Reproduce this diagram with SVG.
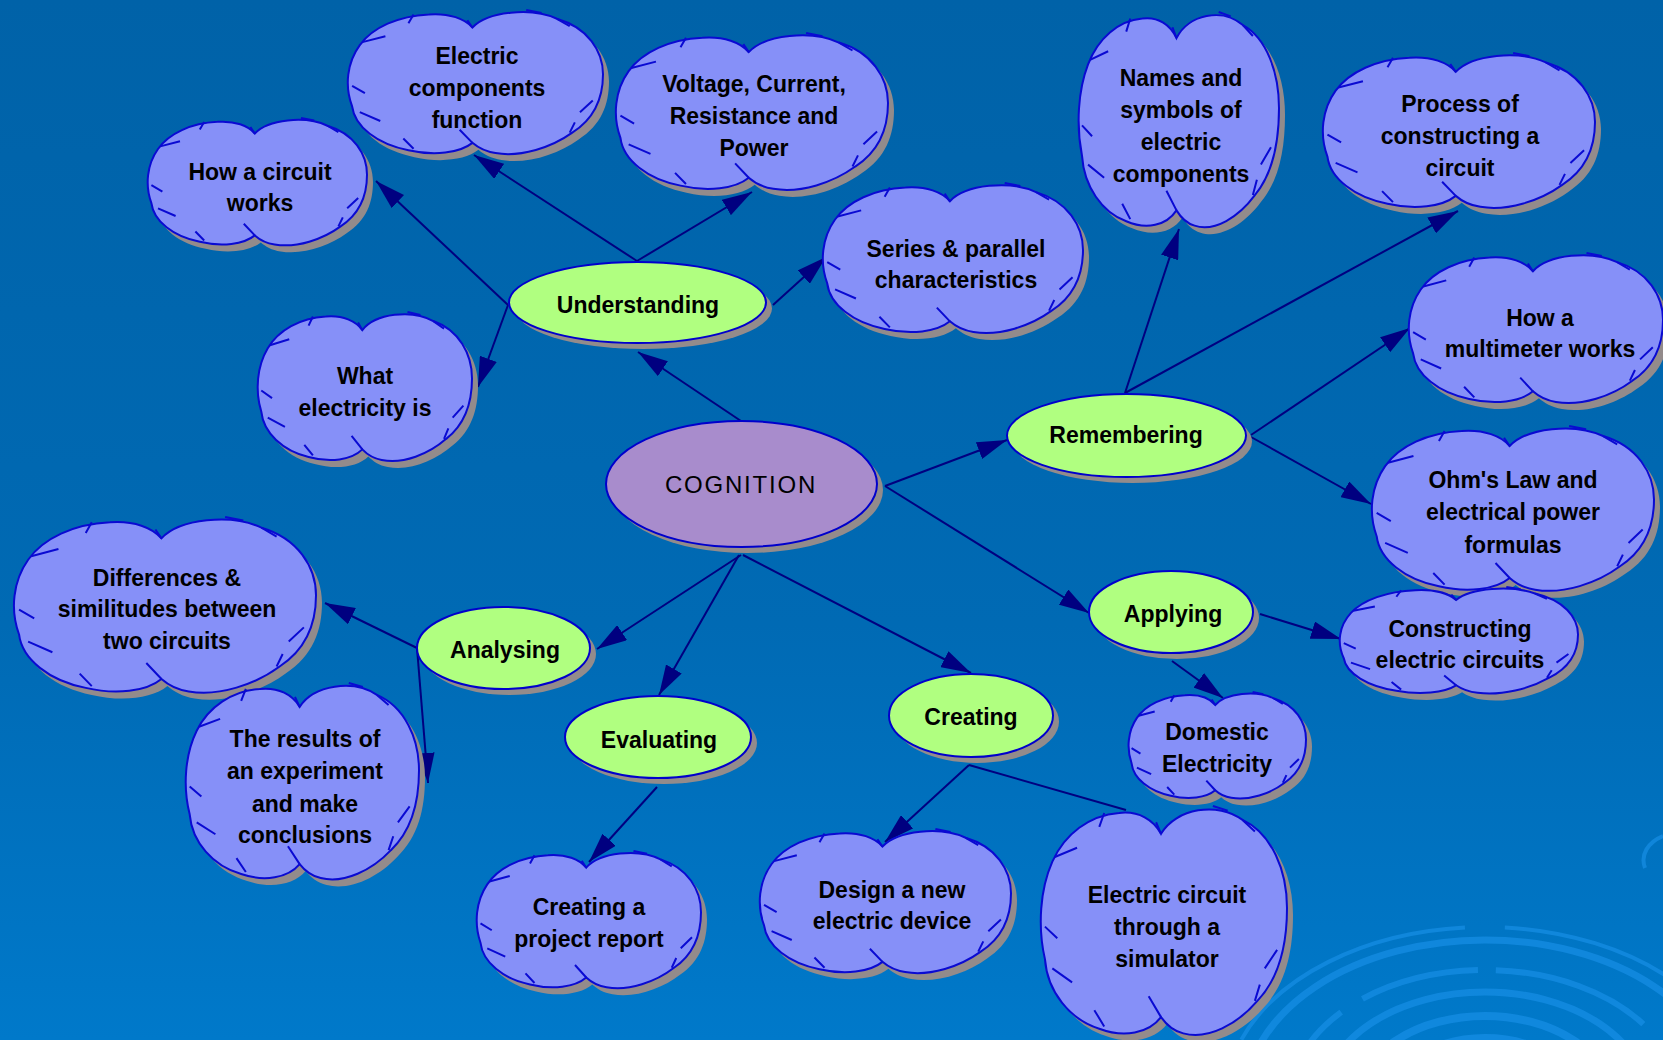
<svg xmlns="http://www.w3.org/2000/svg" xmlns:xlink="http://www.w3.org/1999/xlink" width="1663" height="1040" viewBox="0 0 1663 1040">
<defs>
  <linearGradient id="bg" x1="0" y1="0" x2="0" y2="1">
    <stop offset="0" stop-color="#0062a8"/>
    <stop offset="0.6" stop-color="#006ab4"/>
    <stop offset="1" stop-color="#0079ca"/>
  </linearGradient>
  <marker id="ah" markerUnits="userSpaceOnUse" markerWidth="30" markerHeight="18" refX="30" refY="9" orient="auto">
    <path d="M0,0 L30,9 L0,18 Z" fill="#000080"/>
  </marker>
  <path id="cp" vector-effect="non-scaling-stroke" d="M49,12 C55,1 72,-2 82,6 C94,12 100,28 100,44 C100,60 97,74 88,84 C80,94 68,101 58,98 C54,97 51,94 49,91 C44,98 34,100 24,96 C12,92 3,80 2,66 C-1,52 0,36 5,24 C10,12 20,4 32,3 C40,2 46,6 49,12 Z"/>
  <g id="cloud">
    <use xlink:href="#cp" class="cl"/>
    <path class="tk" vector-effect="non-scaling-stroke" d="M6,22 L15,18 M2,52 L7,57 M5,70 L13,76 M22,88 L26,95 M44,82 L49,91 M96,62 L91,70 M89,77 L87,84 M26,3 L24,9 M82,6 L87,11 M49,12 L47,7 M70,0 L76,2"/>
  </g>
  <style>
    .cl{fill:#8690f8;stroke:#0a0ad2;stroke-width:2}
    .tk{fill:none;stroke:#0a0ad2;stroke-width:2}
    .sh{fill:#938b8b}
    .esh{fill:#938b8b}
    .eg{fill:#b0ff80;stroke:#0000cc;stroke-width:2}
    .ep{fill:#a88ccc;stroke:#0000cc;stroke-width:2}
    .t{font-family:"Liberation Sans",Arial,sans-serif;font-weight:bold;font-size:23px;fill:#000;text-anchor:middle}
    .tc{font-family:"Liberation Sans",Arial,sans-serif;font-size:24px;letter-spacing:1.8px;fill:#000;text-anchor:middle}
    .cn{fill:none;stroke:#000080;stroke-width:2;marker-end:url(#ah)}
    .cn0{fill:none;stroke:#000080;stroke-width:2}
    .rp{fill:none;stroke:#1890e8;stroke-opacity:0.65}
  </style>
</defs>

<rect x="0" y="0" width="1663" height="1040" fill="url(#bg)"/>
<g id="ripples">
  <ellipse class="rp" cx="1485" cy="1100" rx="260" ry="173" stroke-width="4" stroke-dasharray="260 40 420 30"/>
  <ellipse class="rp" cx="1485" cy="1100" rx="240" ry="160" stroke-width="7"/>
  <ellipse class="rp" cx="1485" cy="1100" rx="195" ry="130" stroke-width="6" stroke-dasharray="120 18 160 25"/>
  <ellipse class="rp" cx="1485" cy="1100" rx="162" ry="108" stroke-width="7"/>
  <ellipse class="rp" cx="1485" cy="1100" rx="126" ry="84" stroke-width="8"/>
  <ellipse class="rp" cx="1485" cy="1100" rx="93" ry="62" stroke-width="8"/>
  <path class="rp" stroke-width="4" d="M1645,868 C1640,855 1648,842 1663,836"/>
</g>

<g id="connectors">
  <line class="cn" x1="741" y1="421" x2="638" y2="352"/>
  <line class="cn" x1="885" y1="486" x2="1007" y2="440"/>
  <line class="cn" x1="885" y1="486" x2="1089" y2="613"/>
  <line class="cn" x1="741" y1="555" x2="597" y2="649"/>
  <line class="cn" x1="739" y1="555" x2="659" y2="695"/>
  <line class="cn" x1="743" y1="555" x2="971" y2="673"/>
  <line class="cn" x1="508" y1="305" x2="376" y2="181"/>
  <line class="cn" x1="508" y1="305" x2="478" y2="387"/>
  <line class="cn" x1="637" y1="261" x2="474" y2="155"/>
  <line class="cn" x1="637" y1="261" x2="752" y2="192"/>
  <line class="cn" x1="773" y1="305" x2="826" y2="257"/>
  <line class="cn" x1="1125" y1="393" x2="1179" y2="229"/>
  <line class="cn" x1="1125" y1="393" x2="1458" y2="211"/>
  <line class="cn" x1="1251" y1="435" x2="1410" y2="328"/>
  <line class="cn" x1="1251" y1="437" x2="1371" y2="504"/>
  <line class="cn" x1="1260" y1="614" x2="1341" y2="639"/>
  <line class="cn" x1="1172" y1="661" x2="1223" y2="698"/>
  <line class="cn" x1="417" y1="648" x2="325" y2="603"/>
  <line class="cn" x1="417" y1="648" x2="428" y2="783"/>
  <line class="cn" x1="657" y1="787" x2="589" y2="862"/>
  <line class="cn" x1="969" y1="765" x2="885" y2="842"/>
  <line class="cn0" x1="969" y1="765" x2="1126" y2="810"/>
</g>

<g id="n-cognition">
  <ellipse class="esh" cx="747.5" cy="490" rx="135.5" ry="63"/>
  <ellipse class="ep" cx="741.5" cy="484" rx="135.5" ry="63"/>
  <text class="tc" x="741" y="493">COGNITION</text>
</g>
<g id="n-understanding">
  <ellipse class="esh" cx="643.5" cy="308.5" rx="128.5" ry="40.5"/>
  <ellipse class="eg" cx="637.5" cy="302.5" rx="128.5" ry="40.5"/>
  <text class="t" x="638" y="313">Understanding</text>
</g>
<g id="n-remembering">
  <ellipse class="esh" cx="1132.5" cy="441.5" rx="119.5" ry="41.5"/>
  <ellipse class="eg" cx="1126.5" cy="435.5" rx="119.5" ry="41.5"/>
  <text class="t" x="1126" y="443">Remembering</text>
</g>
<g id="n-applying">
  <ellipse class="esh" cx="1177" cy="618" rx="82" ry="41"/>
  <ellipse class="eg" cx="1171" cy="612" rx="82" ry="41"/>
  <text class="t" x="1173" y="622">Applying</text>
</g>
<g id="n-analysing">
  <ellipse class="esh" cx="509.5" cy="654" rx="86.5" ry="41"/>
  <ellipse class="eg" cx="503.5" cy="648" rx="86.5" ry="41"/>
  <text class="t" x="505" y="658">Analysing</text>
</g>
<g id="n-evaluating">
  <ellipse class="esh" cx="664" cy="743" rx="93" ry="41"/>
  <ellipse class="eg" cx="658" cy="737" rx="93" ry="41"/>
  <text class="t" x="659" y="748">Evaluating</text>
</g>
<g id="n-creating">
  <ellipse class="esh" cx="977" cy="721.5" rx="82" ry="41.5"/>
  <ellipse class="eg" cx="971" cy="715.5" rx="82" ry="41.5"/>
  <text class="t" x="971" y="725">Creating</text>
</g>

<g id="c-howcircuit">
  <use xlink:href="#cp" class="sh" transform="translate(153,125) scale(2.20,1.29)"/>
  <use xlink:href="#cloud" transform="translate(147,118) scale(2.20,1.29)"/>
  <text class="t" x="260" y="180">How a circuit</text>
  <text class="t" x="260" y="211">works</text>
</g>
<g id="c-components">
  <use xlink:href="#cp" class="sh" transform="translate(353,17) scale(2.56,1.46)"/>
  <use xlink:href="#cloud" transform="translate(347,10) scale(2.56,1.46)"/>
  <text class="t" x="477" y="64">Electric</text>
  <text class="t" x="477" y="96">components</text>
  <text class="t" x="477" y="128">function</text>
</g>
<g id="c-voltage">
  <use xlink:href="#cp" class="sh" transform="translate(621,40) scale(2.73,1.59)"/>
  <use xlink:href="#cloud" transform="translate(615,33) scale(2.73,1.59)"/>
  <text class="t" x="754" y="92">Voltage, Current,</text>
  <text class="t" x="754" y="124">Resistance and</text>
  <text class="t" x="754" y="156">Power</text>
</g>
<g id="c-series">
  <use xlink:href="#cp" class="sh" transform="translate(828,190) scale(2.61,1.52)"/>
  <use xlink:href="#cloud" transform="translate(822,183) scale(2.61,1.52)"/>
  <text class="t" x="956" y="257">Series &amp; parallel</text>
  <text class="t" x="956" y="288">characteristics</text>
</g>
<g id="c-names">
  <use xlink:href="#cp" class="sh" transform="translate(1084,19) scale(2.01,2.18)"/>
  <use xlink:href="#cloud" transform="translate(1078,12) scale(2.01,2.18)"/>
  <text class="t" x="1181" y="86">Names and</text>
  <text class="t" x="1181" y="118">symbols of</text>
  <text class="t" x="1181" y="150">electric</text>
  <text class="t" x="1181" y="182">components</text>
</g>
<g id="c-process">
  <use xlink:href="#cp" class="sh" transform="translate(1328,60) scale(2.73,1.57)"/>
  <use xlink:href="#cloud" transform="translate(1322,53) scale(2.73,1.57)"/>
  <text class="t" x="1460" y="112">Process of</text>
  <text class="t" x="1460" y="144">constructing a</text>
  <text class="t" x="1460" y="176">circuit</text>
</g>
<g id="c-multimeter">
  <use xlink:href="#cp" class="sh" transform="translate(1414,260) scale(2.55,1.52)"/>
  <use xlink:href="#cloud" transform="translate(1408,253) scale(2.55,1.52)"/>
  <text class="t" x="1540" y="326">How a</text>
  <text class="t" x="1540" y="357">multimeter works</text>
</g>
<g id="c-ohm">
  <use xlink:href="#cp" class="sh" transform="translate(1377,433) scale(2.83,1.67)"/>
  <use xlink:href="#cloud" transform="translate(1371,426) scale(2.83,1.67)"/>
  <text class="t" x="1513" y="488">Ohm's Law and</text>
  <text class="t" x="1513" y="520">electrical power</text>
  <text class="t" x="1513" y="553">formulas</text>
</g>
<g id="c-constructing">
  <use xlink:href="#cp" class="sh" transform="translate(1345,594) scale(2.39,1.08)"/>
  <use xlink:href="#cloud" transform="translate(1339,587) scale(2.39,1.08)"/>
  <text class="t" x="1460" y="637">Constructing</text>
  <text class="t" x="1460" y="668">electric circuits</text>
</g>
<g id="c-domestic">
  <use xlink:href="#cp" class="sh" transform="translate(1134,699) scale(1.78,1.08)"/>
  <use xlink:href="#cloud" transform="translate(1128,692) scale(1.78,1.08)"/>
  <text class="t" x="1217" y="740">Domestic</text>
  <text class="t" x="1217" y="772">Electricity</text>
</g>
<g id="c-simulator">
  <use xlink:href="#cp" class="sh" transform="translate(1046,813) scale(2.47,2.32)"/>
  <use xlink:href="#cloud" transform="translate(1040,806) scale(2.47,2.32)"/>
  <text class="t" x="1167" y="903">Electric circuit</text>
  <text class="t" x="1167" y="935">through a</text>
  <text class="t" x="1167" y="967">simulator</text>
</g>
<g id="c-design">
  <use xlink:href="#cp" class="sh" transform="translate(765,836) scale(2.52,1.46)"/>
  <use xlink:href="#cloud" transform="translate(759,829) scale(2.52,1.46)"/>
  <text class="t" x="892" y="898">Design a new</text>
  <text class="t" x="892" y="929">electric device</text>
</g>
<g id="c-report">
  <use xlink:href="#cp" class="sh" transform="translate(482,858) scale(2.25,1.39)"/>
  <use xlink:href="#cloud" transform="translate(476,851) scale(2.25,1.39)"/>
  <text class="t" x="589" y="915">Creating a</text>
  <text class="t" x="589" y="947">project report</text>
</g>
<g id="c-differences">
  <use xlink:href="#cp" class="sh" transform="translate(19,524) scale(3.03,1.78)"/>
  <use xlink:href="#cloud" transform="translate(13,517) scale(3.03,1.78)"/>
  <text class="t" x="167" y="586">Differences &amp;</text>
  <text class="t" x="167" y="617">similitudes between</text>
  <text class="t" x="167" y="649">two circuits</text>
</g>
<g id="c-results">
  <use xlink:href="#cp" class="sh" transform="translate(191,690) scale(2.34,1.99)"/>
  <use xlink:href="#cloud" transform="translate(185,683) scale(2.34,1.99)"/>
  <text class="t" x="305" y="747">The results of</text>
  <text class="t" x="305" y="779">an experiment</text>
  <text class="t" x="305" y="812">and make</text>
  <text class="t" x="305" y="843">conclusions</text>
</g>
<g id="c-what">
  <use xlink:href="#cp" class="sh" transform="translate(263,319) scale(2.15,1.51)"/>
  <use xlink:href="#cloud" transform="translate(257,312) scale(2.15,1.51)"/>
  <text class="t" x="365" y="384">What</text>
  <text class="t" x="365" y="416">electricity is</text>
</g>
</svg>
